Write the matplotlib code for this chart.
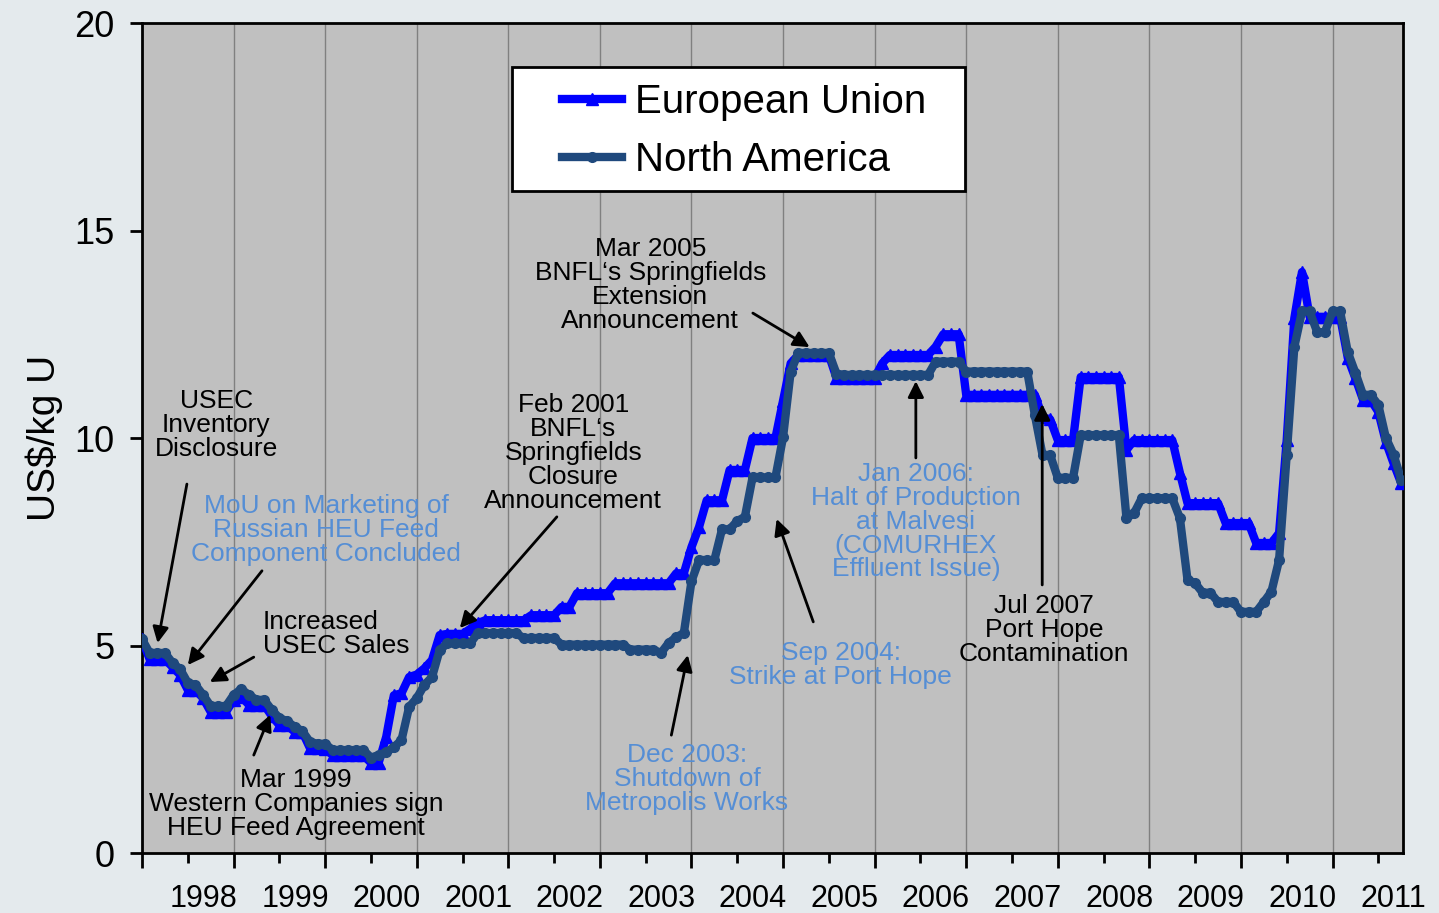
import numpy as np
import matplotlib
matplotlib.use("Agg")
import matplotlib.pyplot as plt
from matplotlib.patches import Rectangle

plt.rcParams['font.family'] = ['Liberation Sans', 'DejaVu Sans']

# monthly prices, Jan 1998 onwards (US$/kg U)
eu_price = [5.15, 4.67, 4.67, 4.67, 4.48, 4.29, 3.93, 3.93, 3.73, 3.40, 3.40, 3.40,
            3.69, 3.77, 3.57, 3.57, 3.57, 3.30, 3.08, 3.08, 2.92, 2.92, 2.53, 2.53,
            2.50, 2.36, 2.36, 2.36, 2.36, 2.36, 2.17, 2.17, 2.80, 3.80, 3.85, 4.24,
            4.30, 4.45, 4.65, 5.25, 5.28, 5.28, 5.28, 5.40, 5.54, 5.61, 5.61, 5.61,
            5.61, 5.61, 5.61, 5.73, 5.73, 5.73, 5.73, 5.93, 5.93, 6.26, 6.26, 6.26,
            6.26, 6.26, 6.50, 6.50, 6.50, 6.50, 6.50, 6.50, 6.50, 6.50, 6.74, 6.74,
            7.37, 7.86, 8.50, 8.50, 8.50, 9.23, 9.23, 9.23, 10.00, 10.00, 10.00, 10.00,
            10.90, 11.80, 12.00, 12.00, 12.00, 12.00, 12.00, 11.45, 11.45, 11.45, 11.45, 11.45,
            11.45, 11.80, 12.00, 12.00, 12.00, 12.00, 12.00, 12.00, 12.20, 12.50, 12.50, 12.50,
            11.04, 11.04, 11.04, 11.04, 11.04, 11.04, 11.04, 11.04, 11.04, 11.04, 10.50, 10.45,
            9.95, 9.95, 9.95, 11.47, 11.47, 11.47, 11.47, 11.47, 11.47, 9.71, 9.95, 9.95,
            9.95, 9.95, 9.95, 9.95, 9.16, 8.43, 8.43, 8.43, 8.43, 8.43, 7.95, 7.95,
            7.95, 7.95, 7.47, 7.47, 7.47, 7.71, 9.95, 12.89, 14.00, 12.92, 12.92, 12.92,
            12.92, 12.92, 11.93, 11.44, 10.92, 10.92, 10.63, 9.90, 9.39, 8.91]

na_price = [5.15, 4.82, 4.82, 4.82, 4.58, 4.43, 4.10, 4.05, 3.81, 3.54, 3.54, 3.54,
            3.81, 3.95, 3.81, 3.69, 3.69, 3.45, 3.25, 3.18, 3.04, 2.94, 2.68, 2.63,
            2.63, 2.48, 2.48, 2.48, 2.48, 2.48, 2.30, 2.36, 2.43, 2.55, 2.72, 3.52,
            3.73, 4.05, 4.24, 4.89, 5.05, 5.05, 5.05, 5.05, 5.30, 5.30, 5.30, 5.30,
            5.30, 5.30, 5.18, 5.18, 5.18, 5.18, 5.18, 5.02, 5.02, 5.02, 5.02, 5.02,
            5.02, 5.02, 5.02, 5.02, 4.90, 4.90, 4.90, 4.90, 4.82, 5.06, 5.20, 5.30,
            6.55, 7.06, 7.06, 7.06, 7.80, 7.80, 8.00, 8.10, 9.05, 9.05, 9.05, 9.05,
            10.02, 11.60, 12.05, 12.05, 12.05, 12.05, 12.05, 11.55, 11.52, 11.52, 11.52, 11.52,
            11.52, 11.52, 11.52, 11.52, 11.52, 11.52, 11.52, 11.52, 11.84, 11.84, 11.84, 11.84,
            11.60, 11.60, 11.60, 11.60, 11.60, 11.60, 11.60, 11.60, 11.60, 10.55, 9.59, 9.59,
            9.04, 9.04, 9.04, 10.07, 10.07, 10.07, 10.07, 10.07, 10.07, 8.07, 8.19, 8.55,
            8.55, 8.55, 8.55, 8.55, 8.07, 6.58, 6.50, 6.27, 6.27, 6.05, 6.05, 6.05,
            5.81, 5.81, 5.81, 6.05, 6.30, 7.06, 9.60, 12.20, 13.05, 13.05, 12.55, 12.55,
            13.05, 13.05, 12.07, 11.57, 11.04, 11.04, 10.80, 10.00, 9.60, 9.00]

months = 1998 + np.arange(len(eu_price)) / 12.0
years = list(range(1998, 2012))
year_labels = [str(y) for y in years]

fig = plt.figure(figsize=(14.39, 9.13), dpi=100)
fig.patch.set_facecolor('#E4EAED')
ax = fig.add_axes([0.0987, 0.0657, 0.8763, 0.9091])
ax.set_facecolor('#C0C0C0')

ax.plot(months, eu_price, color='#0000FF', lw=6, marker='^', ms=8,
        label='European Union', zorder=3)
ax.plot(months, na_price, color='#1F497D', lw=6, marker='o', ms=7,
        label='North America', zorder=4)

ax.set_xlim(1998, 2011.77)
ax.set_ylim(0, 20)
ax.set_yticks([0, 5, 10, 15, 20])
ax.tick_params(axis='y', labelsize=26, length=9, width=2, pad=11)
ax.set_ylabel('US$/kg U', fontsize=28, labelpad=8)

# gridlines at year boundaries, small ticks at mid-year
ax.set_xticks(years)
ax.set_xticks([y + 0.5 for y in years], minor=True)
ax.tick_params(axis='x', which='major', length=11, width=2, labelbottom=False)
ax.tick_params(axis='x', which='minor', length=7, width=2)
ax.grid(axis='x', which='major', color='#808080', lw=1)
ax.set_axisbelow(True)

sec = ax.secondary_xaxis('bottom')
sec.set_xticks([y + 0.67 for y in years])
sec.set_xticklabels(year_labels)
sec.tick_params(length=0, labelsize=22, pad=22)
sec.spines['bottom'].set_visible(False)

for s in ax.spines.values():
    s.set_linewidth(2)
    s.set_color('black')

# legend box (frame drawn separately to get the wide left padding)
ax.add_patch(Rectangle((0.3558, 0.7908), 0.3148, 0.1358,
                       transform=fig.transFigure, facecolor='white',
                       edgecolor='black', lw=2, zorder=8))
leg = ax.legend(loc='upper left', bbox_to_anchor=(0.3905, 0.9092),
                bbox_transform=fig.transFigure, fontsize=29, frameon=False,
                borderpad=0, handlelength=1.5, handletextpad=0.32,
                labelspacing=0.49, borderaxespad=0)
leg.set_zorder(9)

black = 'black'
blue = '#558ED5'
notes = [
    ("USEC\nInventory\nDisclosure", (1998.81, 10.31), (1998.49, 8.89), (1998.17, 5.06), black, 'center'),
    ("MoU on Marketing of\nRussian HEU Feed\nComponent Concluded", (2000.01, 7.78), (1999.31, 6.80), (1998.50, 4.53), blue, 'center'),
    ("Increased\nUSEC Sales", (1999.32, 5.28), (1999.22, 4.72), (1998.74, 4.12), black, 'left'),
    ("Mar 1999\nWestern Companies sign\nHEU Feed Agreement", (1999.68, 1.18), (1999.22, 2.36), (1999.40, 3.33), black, 'center'),
    ("Feb 2001\nBNFL\u2018s\nSpringfields\nClosure\nAnnouncement", (2002.71, 9.64), (2002.53, 8.10), (2001.47, 5.42), black, 'center'),
    ("Mar 2005\nBNFL\u2018s Springfields\nExtension\nAnnouncement", (2003.55, 13.69), (2004.67, 13.01), (2005.29, 12.19), black, 'center'),
    ("Jan 2006:\nHalt of Production\nat Malvesi\n(COMURHEX\nEffluent Issue)", (2006.45, 7.98), (2006.45, 9.52), (2006.45, 11.37), blue, 'center'),
    ("Jul 2007\nPort Hope\nContamination", (2007.85, 5.37), (2007.83, 6.46), (2007.83, 10.82), black, 'center'),
    ("Sep 2004:\nStrike at Port Hope", (2005.63, 4.53), (2005.33, 5.57), (2004.93, 8.05), blue, 'center'),
    ("Dec 2003:\nShutdown of\nMetropolis Works", (2003.95, 1.78), (2003.78, 2.84), (2003.96, 4.77), blue, 'center'),
]
for txt, pos, tail, head, col, ha in notes:
    ax.text(pos[0], pos[1], txt, color=col, fontsize=19, ha=ha, va='center',
            multialignment=ha, linespacing=0.99, zorder=6)
    ax.annotate('', xy=head, xytext=tail,
                arrowprops=dict(arrowstyle='-|>', color='black', lw=2,
                                mutation_scale=24, shrinkA=0, shrinkB=0),
                zorder=7)

fig.savefig('out.png', dpi=100, facecolor=fig.get_facecolor())
